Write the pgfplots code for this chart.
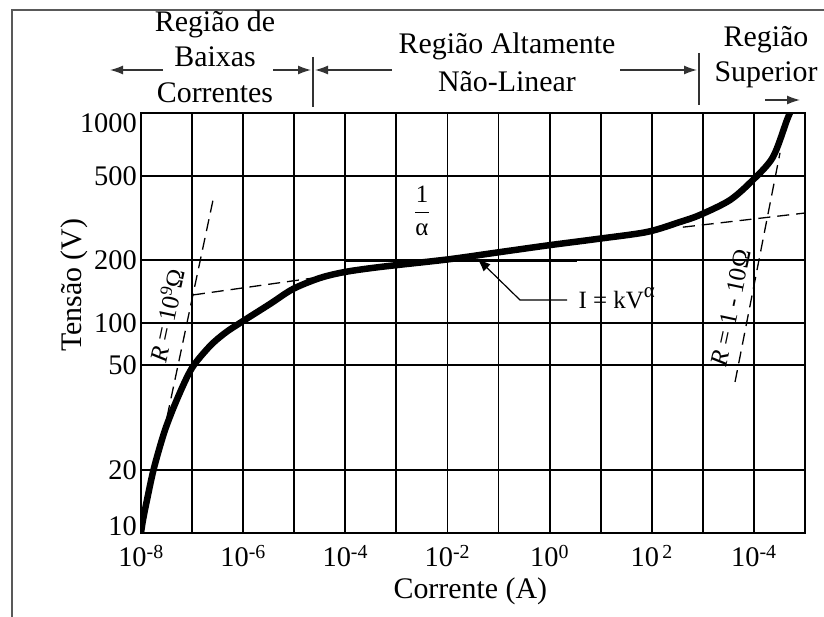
\documentclass[border=0pt]{standalone}
\usepackage{pgfplots}
\pgfplotsset{compat=1.18}
\usepackage{amsmath}
\usepackage{fontspec}
\setmainfont{Liberation Serif}
\usetikzlibrary{arrows.meta}

\newcommand{\tkf}{\fontsize{28.5}{30}\selectfont}
\newcommand{\lbf}{\fontsize{30}{36}\selectfont}
\newcommand{\smf}{\fontsize{25}{28}\selectfont}
\tikzset{ar/.style={line width=1.3bp, black!80, -{Latex[length=13bp,width=9bp]}}}

\begin{document}
\begin{tikzpicture}
\useasboundingbox (0,0) rectangle (824bp,617bp);
\begin{axis}[
  at={(141bp,84bp)}, anchor=south west,
  scale only axis, width=664bp, height=420bp,
  xmode=log, ymode=log,
  xmin=1e-8, xmax=1e5, ymin=10, ymax=1000,
  xtick={1e-8,1e-6,1e-4,1e-2,1,1e2,1e4},
  xticklabels={10\textsuperscript{-8},10\textsuperscript{-6},10\textsuperscript{-4},10\textsuperscript{-2},10\textsuperscript{0},10\textsuperscript{\,2},10\textsuperscript{-4}},
  minor xtick={1e-7,1e-5,1e-3,1e-1,1e1,1e3},
  ytick={10,20,63.1,100,200,500},
  yticklabels={\raisebox{14bp}{10},20,50,100,200,500},
  extra y ticks={1000}, extra y tick labels={1000},
  extra y tick style={yticklabel style={anchor=north east}},
  xmajorgrids, xminorgrids, ymajorgrids,
  major tick length=0pt, minor tick length=0pt,
  major grid style={black, line width=1.8bp},
  minor grid style={black, line width=1.8bp},
  axis line style={line width=2.4bp},
  every tick label/.append style={font=\tkf},
  every x tick label/.append style={font=\tkf, anchor=base, inner sep=0pt, yshift=-34bp},
  every y tick label/.append style={font=\tkf, anchor=east, inner sep=0pt, xshift=-4bp},
  xlabel={Corrente (A)}, ylabel={Tensão (V)},
  xlabel style={font=\lbf, at={(axis description cs:0.496,0)}, anchor=base, yshift=-66bp},
  ylabel style={font=\lbf, at={(axis description cs:-0.101,0.59)}, anchor=center},
]
% V-I characteristic
\addplot[black, line width=6.5bp, smooth, line cap=round] coordinates {
(1e-8,10) (1.094e-8,11.53) (1.31e-8,14.36) (1.796e-8,20.4) (2.95e-8,30.9)
(5.30e-8,44.4) (9.97e-8,61.1) (2.24e-7,77.7) (4.41e-7,89.6) (8.67e-7,100) (3.35e-6,123.2)
(9.46e-6,145.2) (3.19e-5,163.8) (9.86e-5,175.0) (4.78e-4,184.8) (9.79e-3,200.6)
(0.0933,216.6) (0.888,233.9) (8.47,251.2) (80.6,271.3) (357,302.7) (879,327)
(3400,385) (9570,480) (23600,617) (44400,927) (50800,1000)
};
% tangent / reference lines
\addplot[black, line width=1.3bp, dash pattern=on 12bp off 7bp] coordinates {(3.24e-8,35.7) (2.57e-7,385)};
\addplot[black, line width=1.3bp, dash pattern=on 12bp off 7bp] coordinates {(1.04e-7,136) (3.5e-5,166)};
\addplot[black, line width=1.3bp, dash pattern=on 12bp off 7bp] coordinates {(4270,52.4) (32400,646)};
\addplot[black, line width=1.3bp, dash pattern=on 12bp off 7bp] coordinates {(407,286) (1e5,334)};
\addplot[black, line width=1.6bp] coordinates {(1e-4,196) (3.44,196)};
\end{axis}
\begin{scope}[x=1bp,y=1bp]
\draw[black!65, line width=2bp] (12,0) -- (12,607) -- (824,607);
% region titles
\node[font=\lbf, anchor=base] at (215,585) {Região de};
\node[font=\lbf, anchor=base] at (215,550) {Baixas};
\node[font=\lbf, anchor=base] at (215,514) {Correntes};
\node[font=\lbf, anchor=base] at (507,563) {Região Altamente};
\node[font=\lbf, anchor=base] at (507,525) {Não-Linear};
\node[font=\lbf, anchor=base] at (766,570) {Região};
\node[font=\lbf, anchor=base] at (766,535) {Superior};
% region arrows
\draw[ar] (163,547) -- (110,547);
\draw[ar] (273,547) -- (311,547);
\draw[line width=1.3bp, black!80] (313,560) -- (313,510);
\draw[ar] (392,547) -- (315,547);
\draw[ar] (620,547) -- (697,547);
\draw[line width=1.3bp, black!80] (699,564) -- (699,512);
\draw[ar] (765,517) -- (800,517);
% annotations in the plot
\node[font=\smf] at (422,406) {$\dfrac{\text{1}}{\text{α}}$};
\node[font=\smf, anchor=base west] at (575,309) {I = kV\raisebox{0.42em}{\fontsize{21}{21}\selectfont α}};
\draw[line width=1.2bp, black, -{Latex[length=14bp,width=10bp]}] (567,317) -- (520,317) -- (477,359);
\node[font=\smf, rotate=78] at (166,302) {\textit{R} = 10\textsuperscript{9}Ω};
\node[font=\smf, rotate=78] at (731,309) {\textit{R} = 1 - 10Ω};
\end{scope}
\end{tikzpicture}
\end{document}
